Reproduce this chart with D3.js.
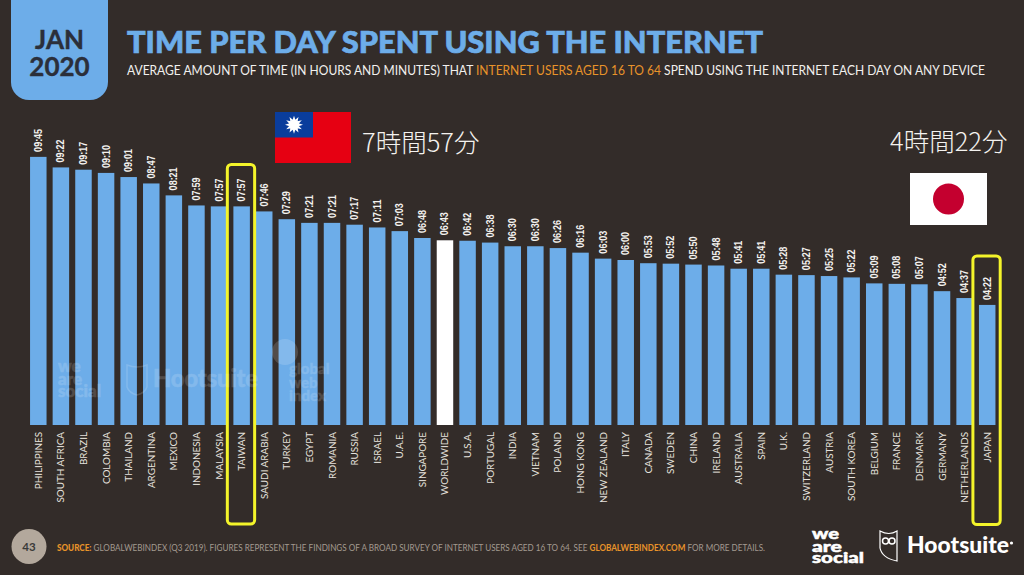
<!DOCTYPE html>
<html><head><meta charset="utf-8">
<script src="https://cdn.jsdelivr.net/npm/d3@7/dist/d3.min.js"></script>
<style>html,body{margin:0;padding:0;background:#332c29;overflow:hidden}svg{display:block}text{font-family:Lato,"Open Sans",sans-serif}</style>
</head><body><svg id="c" width="1024" height="575"></svg>
<script>
const categories=["PHILIPPINES","SOUTH AFRICA","BRAZIL","COLOMBIA","THAILAND","ARGENTINA","MEXICO","INDONESIA","MALAYSIA","TAIWAN","SAUDI ARABIA","TURKEY","EGYPT","ROMANIA","RUSSIA","ISRAEL","U.A.E.","SINGAPORE","WORLDWIDE","U.S.A.","PORTUGAL","INDIA","VIETNAM","POLAND","HONG KONG","NEW ZEALAND","ITALY","CANADA","SWEDEN","CHINA","IRELAND","AUSTRALIA","SPAIN","U.K.","SWITZERLAND","AUSTRIA","SOUTH KOREA","BELGIUM","FRANCE","DENMARK","GERMANY","NETHERLANDS","JAPAN"];
const timeLabels=["09:45","09:22","09:17","09:10","09:01","08:47","08:21","07:59","07:57","07:57","07:46","07:29","07:21","07:21","07:17","07:11","07:03","06:48","06:43","06:42","06:38","06:30","06:30","06:26","06:16","06:03","06:00","05:53","05:52","05:50","05:48","05:41","05:41","05:28","05:27","05:25","05:22","05:09","05:08","05:07","04:52","04:37","04:22"];
const highlighted=["TAIWAN","JAPAN"];
const minutes=t=>{const [h,m]=t.split(":").map(Number);return h*60+m;};
const svg=d3.select("#c");
const BLUE="#6dade9",BG="#332c29",ORANGE="#e8932a",YEL="#f4f42a";
svg.append("rect").attr("width",1024).attr("height",575).attr("fill",BG);

// date tab
svg.append("path").attr("fill",BLUE).attr("d","M11,0H108V82a18,18 0 0 1 -18,18H29a18,18 0 0 1 -18,-18Z");
[["JAN",49],["2020",75.5]].forEach(([t,y])=>svg.append("text").attr("x",59.5).attr("y",y).attr("text-anchor","middle").attr("font-size",26).attr("font-weight",700).attr("fill","#2b2f3a").attr("stroke","#2b2f3a").attr("stroke-width",.4).text(t));

// titles
svg.append("text").attr("x",127).attr("y",53).attr("font-size",31).attr("font-weight",900).attr("fill",BLUE).attr("stroke",BLUE).attr("stroke-width",.7).attr("textLength",636).attr("lengthAdjust","spacingAndGlyphs").text("TIME PER DAY SPENT USING THE INTERNET");
const sub=svg.append("text").attr("x",127).attr("y",75).attr("font-size",12.6).attr("fill","#f2f0ee").attr("textLength",858).attr("lengthAdjust","spacingAndGlyphs");
sub.append("tspan").text("AVERAGE AMOUNT OF TIME (IN HOURS AND MINUTES) THAT ");
sub.append("tspan").attr("fill",ORANGE).text("INTERNET USERS AGED 16 TO 64");
sub.append("tspan").text(" SPEND USING THE INTERNET EACH DAY ON ANY DEVICE");

// scales
const x=d3.scaleBand().domain(categories).range([27,998.5]).paddingInner(0.27).paddingOuter(0.135);
const y=d3.scaleLinear().domain([0,600]).range([425,150]);

const bars=svg.append("g");
bars.selectAll("rect").data(categories).join("rect")
 .attr("x",d=>x(d)).attr("width",x.bandwidth())
 .attr("y",(d,i)=>y(minutes(timeLabels[i])))
 .attr("height",(d,i)=>y(0)-y(minutes(timeLabels[i])))
 .attr("fill",d=>d==="WORLDWIDE"?"#ffffff":BLUE);

// value labels
svg.append("g").selectAll("text").data(categories).join("text")
 .attr("transform",(d,i)=>`translate(${x(d)+x.bandwidth()/2+3.5},${y(minutes(timeLabels[i]))-5}) rotate(-90)`)
 .attr("font-size",11).attr("font-weight",700).attr("fill","#f4f2ef")
 .style("font-family","'Liberation Sans Narrow','Liberation Sans',sans-serif")
 .attr("textLength",23).attr("lengthAdjust","spacingAndGlyphs")
 .text((d,i)=>timeLabels[i]);

// category axis
const axis=svg.append("g").attr("transform","translate(0,425)").call(d3.axisBottom(x).tickSize(0).tickPadding(0));
axis.select(".domain").remove();
axis.selectAll("text")
 .attr("x",0).attr("y",0).attr("dy",null)
 .attr("transform","translate(3.5,7) rotate(-90)")
 .attr("text-anchor","end").attr("fill","#e6e2de")
 .style("font-family","Lato,sans-serif").style("font-size","9.9px");

// highlight boxes
highlighted.forEach(c=>{
 const cx=x(c)+x.bandwidth()/2;
 svg.append("rect").attr("x",cx-14.3).attr("y",c==="JAPAN"?256:164.5).attr("width",27.3)
  .attr("height",c==="JAPAN"?268.5:359.5).attr("rx",4).attr("fill","none").attr("stroke",YEL).attr("stroke-width",3);
});

// watermarks
const wm=svg.append("g").attr("fill","#ffffff").attr("opacity",.15).attr("font-weight",900);
[["we",372],["are",385],["social",397]].forEach(([t,yy])=>wm.append("text").attr("x",58).attr("y",yy).attr("font-size",17).attr("stroke","#fff").attr("stroke-width",.5).text(t));
wm.append("text").attr("x",153).attr("y",387).attr("font-size",24).attr("stroke","#fff").attr("stroke-width",.5).attr("textLength",105).attr("lengthAdjust","spacingAndGlyphs").text("Hootsuite");
wm.append("path").attr("d","M127,365q10,4 20,0v22q-2,6 -10,8q-8,-2 -10,-8Z").attr("fill","none").attr("stroke","#fff").attr("stroke-width",1.5);
wm.append("circle").attr("cx",285).attr("cy",352).attr("r",13);
[["global",374],["web",388],["index",401]].forEach(([t,yy])=>wm.append("text").attr("x",289).attr("y",yy).attr("font-size",15).attr("stroke","#fff").attr("stroke-width",.3).text(t));

// Taiwan flag
const tw=svg.append("g").attr("transform","translate(275,112)");
tw.append("rect").attr("width",76).attr("height",51).attr("fill","#e60012");
tw.append("rect").attr("width",38).attr("height",25.5).attr("fill","#0a3d9c");
const rays=d3.range(12);
tw.append("g").selectAll("path").data(rays).join("path")
 .attr("d","M-1.5,-4.5L0,-9L1.5,-4.5Z").attr("fill","#fff")
 .attr("transform",d=>`translate(19,12.75) rotate(${d*30})`);
tw.append("circle").attr("cx",19).attr("cy",12.75).attr("r",5.2).attr("fill","#fff");

// Japan flag
const jp=svg.append("g").attr("transform","translate(910,173)");
jp.append("rect").attr("width",77).attr("height",52).attr("fill","#fff");
jp.append("circle").attr("cx",38.5).attr("cy",26).attr("r",15.5).attr("fill","#c4002f");

// annotations
const cjk="'Noto Sans CJK JP',sans-serif";
svg.append("text").attr("x",362).attr("y",152).attr("font-size",25.5).attr("font-weight",300).attr("fill","#f4f2ef").style("font-family",cjk).text("7時間57分");
svg.append("text").attr("x",890).attr("y",151).attr("font-size",25.5).attr("font-weight",300).attr("fill","#f4f2ef").style("font-family",cjk).text("4時間22分");

// footer
svg.append("circle").attr("cx",29).attr("cy",546.5).attr("r",17.5).attr("fill","#b3a89c");
svg.append("text").attr("x",29).attr("y",551).attr("text-anchor","middle").attr("font-size",11.5).attr("font-weight",700).attr("fill","#3a3a3a").text("43");
const src=svg.append("text").attr("x",57).attr("y",551).attr("font-size",8.6).attr("fill","#a39a90").attr("textLength",708).attr("lengthAdjust","spacingAndGlyphs");
src.append("tspan").attr("fill",ORANGE).attr("font-weight",900).text("SOURCE:");
src.append("tspan").text(" GLOBALWEBINDEX (Q3 2019). FIGURES REPRESENT THE FINDINGS OF A BROAD SURVEY OF INTERNET USERS AGED 16 TO 64. SEE ");
src.append("tspan").attr("fill",ORANGE).attr("font-weight",700).text("GLOBALWEBINDEX.COM");
src.append("tspan").text(" FOR MORE DETAILS.");

// logos
[["we",539,27],["are",551.5,30],["social",563,52]].forEach(([t,yy,w])=>svg.append("text").attr("x",812).attr("y",yy).attr("font-size",15.5).attr("font-weight",900).attr("fill","#fff").attr("stroke","#fff").attr("stroke-width",.5).attr("textLength",w).attr("lengthAdjust","spacingAndGlyphs").text(t));
svg.append("path").attr("d","M880,531q9,5 17,0v30q-15,-3 -17,-13Z").attr("fill","none").attr("stroke","#fff").attr("stroke-width",1.2);
svg.append("circle").attr("cx",885.5).attr("cy",541).attr("r",3).attr("fill","none").attr("stroke","#fff").attr("stroke-width",1.5);
svg.append("circle").attr("cx",892).attr("cy",541).attr("r",3).attr("fill","none").attr("stroke","#fff").attr("stroke-width",1.5);
svg.append("text").attr("x",907).attr("y",553).attr("font-size",22.5).attr("font-weight",900).attr("fill","#fff").attr("textLength",102).attr("lengthAdjust","spacingAndGlyphs").text("Hootsuite");
svg.append("circle").attr("cx",1011.5).attr("cy",543).attr("r",1.6).attr("fill","#fff");
</script></body></html>
